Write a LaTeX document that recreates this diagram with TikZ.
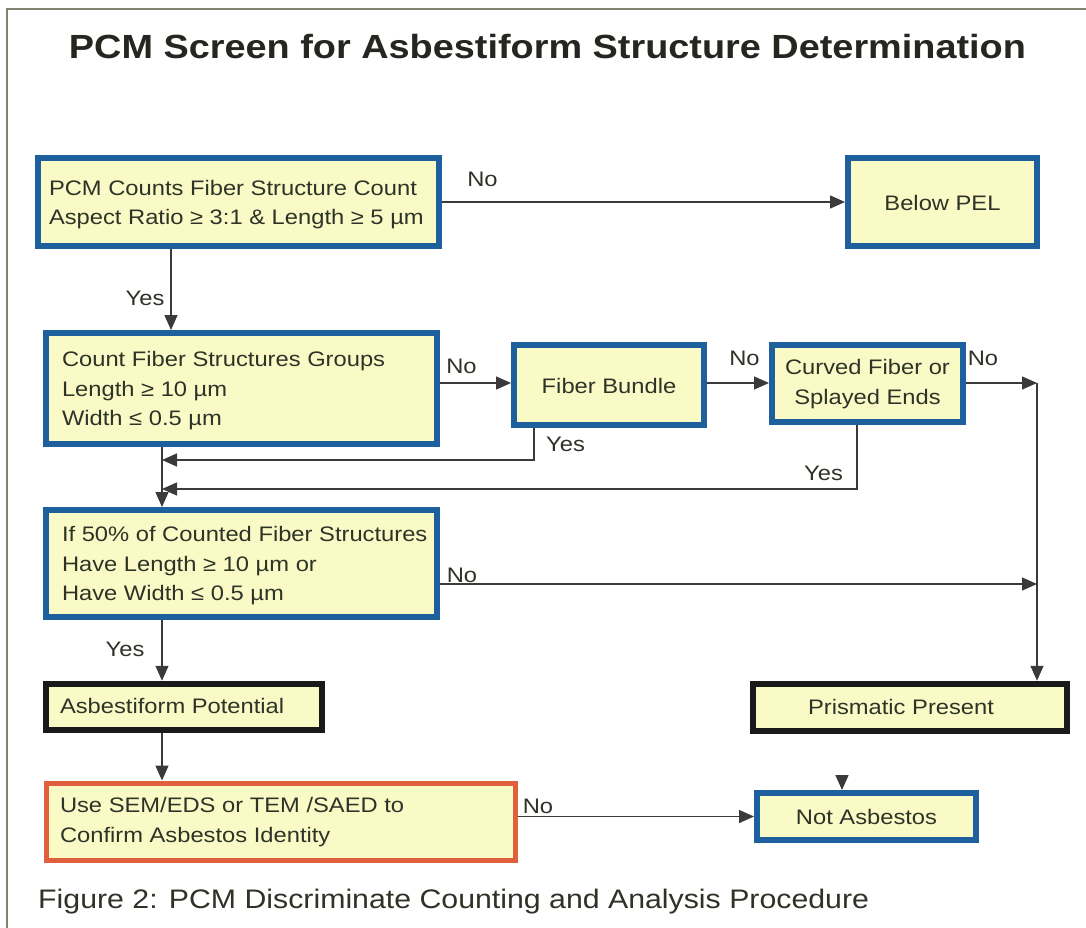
\documentclass[tikz,border=0pt]{standalone}
\usepackage{fontspec}
\setmainfont{Liberation Sans}[FakeStretch=1.13]
\usetikzlibrary{arrows.meta,calc}
\definecolor{bluebd}{HTML}{1E609D}
\definecolor{fillY}{HTML}{FAFAC6}
\definecolor{txt}{HTML}{2E3328}
\definecolor{titlec}{HTML}{23271F}
\definecolor{redbd}{HTML}{E0603E}
\definecolor{blackbd}{HTML}{1A1A1A}
\definecolor{lnc}{HTML}{3A3A3A}
\definecolor{framec}{HTML}{7E8470}
\newcommand\lbx[3]{\raisebox{#1}[\height][\depth]{\makebox[#2][l]{\begin{tabular}{@{}l@{}}#3\end{tabular}}}}
\newcommand\cbx[2]{\raisebox{#1}[\height][\depth]{\begin{tabular}{@{}c@{}}#2\end{tabular}}}
\begin{document}
\begin{tikzpicture}[x=1pt,y=-1pt,
  box/.style={fill=fillY, text=txt, inner ysep=0pt, font=\fontsize{21}{29.5}\selectfont},
  bluebox/.style={box, draw=bluebd, line width=6pt},
  blackbox/.style={box, draw=blackbd, line width=6.5pt},
  redbox/.style={box, draw=redbd, line width=5pt},
  arr/.style={draw=lnc, line width=1.4pt, -{Triangle[length=15pt,width=13pt]}},
  plain/.style={draw=lnc, line width=1.4pt},
  lbl/.style={text=txt, font=\fontsize{21}{24}\selectfont, inner sep=0pt, anchor=base}]
\useasboundingbox (0,0) rectangle (1086,928);
\fill[white] (0,0) rectangle (1086,928);
\draw[framec, line width=2pt] (7,928) -- (7,9) -- (1086,9);

\node[anchor=base, font=\fontsize{33.5}{40}\bfseries\selectfont, text=titlec, inner sep=0pt] (title) at (547.5,59) {PCM Screen for Asbestiform Structure Determination};

% boxes
\node[bluebox, minimum width=401pt, minimum height=88pt, inner xsep=11pt] (A) at (238.5,202)
  {\lbx{-2pt}{379pt}{PCM Counts Fiber Structure Count\\Aspect Ratio ≥ 3:1 \& Length ≥ 5 µm}};
\node[bluebox, minimum width=189pt, minimum height=88pt] (B) at (942.5,202) {\cbx{-3pt}{Below PEL}};
\node[bluebox, minimum width=391pt, minimum height=111pt, inner xsep=16pt] (C) at (241.5,388.5)
  {\lbx{-2pt}{359pt}{Count Fiber Structures Groups\\Length ≥ 10 µm\\Width ≤ 0.5 µm}};
\node[bluebox, minimum width=190pt, minimum height=80pt] (D) at (609,385) {\cbx{-3pt}{Fiber Bundle}};
\node[bluebox, minimum width=191pt, minimum height=77pt, inner xsep=4pt] (E) at (867.5,383.5) {\cbx{0pt}{Curved Fiber or\\Splayed Ends}};
\node[bluebox, minimum width=391pt, minimum height=107pt, inner xsep=16pt] (F) at (241.5,563.5)
  {\lbx{-2pt}{359pt}{If 50\% of Counted Fiber Structures\\Have Length ≥ 10 µm or\\Have Width ≤ 0.5 µm}};
\node[blackbox, minimum width=276pt, minimum height=46pt, inner xsep=14pt] (G) at (184,707)
  {\lbx{-1pt}{248pt}{Asbestiform Potential}};
\node[blackbox, minimum width=314pt, minimum height=47pt] (H) at (910,707.5) {\cbx{-1pt}{Prismatic Present\hspace*{18pt}}};
\node[redbox, minimum width=469pt, minimum height=77pt, inner xsep=14pt] (I) at (280.5,821.5)
  {\lbx{0pt}{441pt}{Use SEM/EDS or TEM /SAED to\\Confirm Asbestos Identity}};
\node[bluebox, minimum width=219pt, minimum height=47pt] (J) at (866.5,816.5) {\cbx{-2pt}{Not Asbestos}};

% helper coordinates
\coordinate (xA) at (171,0);
\coordinate (xC) at (162,0);
\coordinate (yCD) at (0,383);
\coordinate (R) at (1037,383);
\coordinate (yF) at (0,584);
\coordinate (d1) at (534,460);
\coordinate (e1) at (857,489);
\coordinate (js) at (842,776);

% connectors
\draw[arr] (A.east) -- (B.west);
\draw[arr] (A.south -| xA) -- (C.north -| xA);
\draw[arr] (C.east |- yCD) -- (D.west |- yCD);
\draw[arr] (D.east |- yCD) -- (E.west |- yCD);
\draw[arr] (E.east |- yCD) -- (R);
\draw[arr] (R) -- (H.north -| R);
\draw[arr] (D.south -| d1) |- (xC |- d1);
\draw[arr] (E.south -| e1) |- (xC |- e1);
\draw[arr] (C.south -| xC) -- (F.north -| xC);
\draw[arr] (F.east |- yF) -- (R |- yF);
\draw[arr] (F.south -| xC) -- (G.north -| xC);
\draw[arr] (G.south -| xC) -- (I.north -| xC);
\draw[arr] (J.west -| I.east) -- (J.west);
\draw[arr] (js) -- (J.north -| js);

% labels
\node[lbl] (l1) at (482.5,186) {No};
\node[lbl] (l2) at (145,305) {Yes};
\node[lbl] (l3) at (461.5,373) {No};
\node[lbl] (l4) at (744.5,365) {No};
\node[lbl] (l5) at (983,365) {No};
\node[lbl] (l6) at (565.5,451) {Yes};
\node[lbl] (l7) at (823.5,480) {Yes};
\node[lbl] (l8) at (462,582) {No};
\node[lbl] (l9) at (125,656) {Yes};
\node[lbl] (l10) at (538,813) {No};

\node[anchor=base west, font=\fontsize{26.8}{30}\selectfont, text=txt, inner sep=0pt] (cap) at (38,908) {Figure 2: PCM Discriminate Counting and Analysis Procedure};
\end{tikzpicture}
\end{document}
